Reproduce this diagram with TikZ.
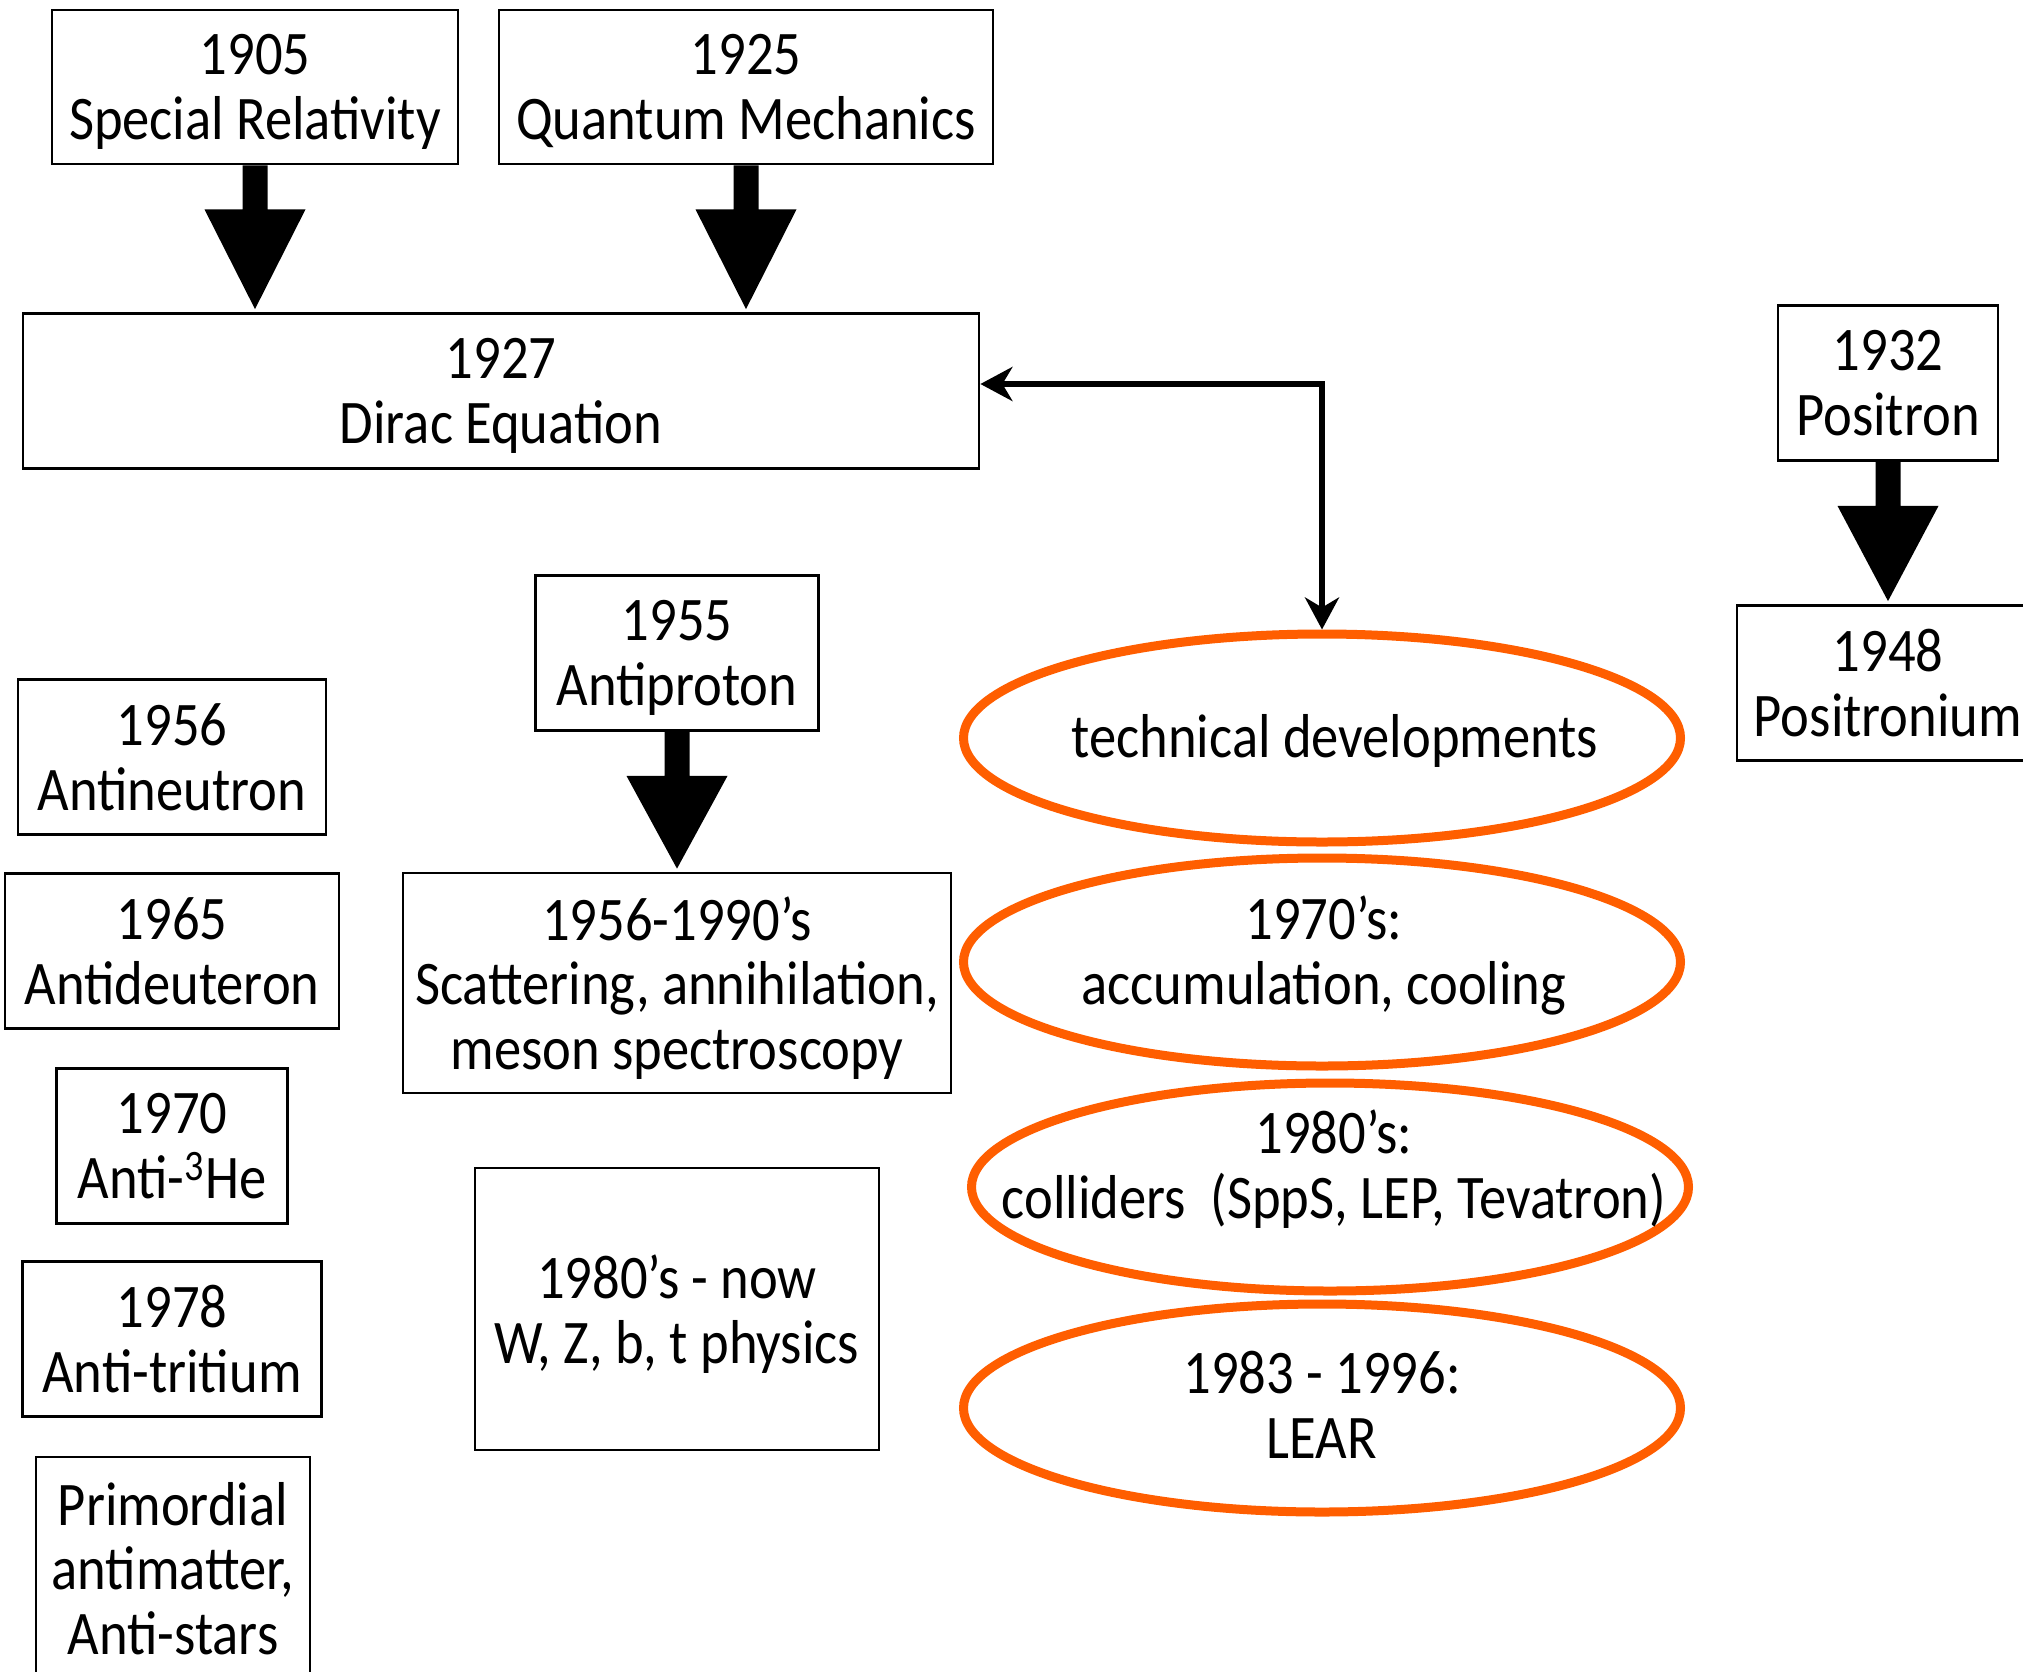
\documentclass[tikz,border=0pt]{standalone}
\usepackage{fontspec}
\setmainfont{Carlito}[FakeStretch=0.88]
\usetikzlibrary{shapes.geometric,arrows.meta,calc}
\definecolor{flame}{RGB}{255,94,0}

% one unit = one pixel of a 2023 x 1671 canvas, y running downwards
\tikzset{
  x=0.5pt, y=-0.5pt,
  labeltext/.style={font=\fontsize{31}{32.25}\selectfont, align=center, inner sep=0pt, text depth=0pt},
  event/.style={labeltext, draw=black, line width=1.4pt, fill=white},
  orb/.style={ellipse, draw=flame, line width=4.5pt, minimum width=358.5pt, minimum height=104pt, inner sep=0pt},
  link/.style={line width=2.75pt,
    {Stealth[length=16pt,width=17pt,inset=5pt]}-{Stealth[length=16pt,width=17pt,inset=5pt]}}
}

% thick block arrow from the bottom of one node to the top of another
\newcommand\fatarrow[2]{%
  \fill let \p1=(#1.south), \p2=(#2.north) in
    (\x1-6.25pt,\y1) -- (\x1+6.25pt,\y1) -- (\x1+6.25pt,\y1-22pt) --
    (\x1+25.25pt,\y1-22pt) -- (\x1,\y2+1.5pt) -- (\x1-25.25pt,\y1-22pt) --
    (\x1-6.25pt,\y1-22pt) -- cycle;}

\begin{document}
\begin{tikzpicture}
\path[use as bounding box, clip] (0,0) rectangle (2023,1671);
\fill[white] (0,0) rectangle (2023,1671);

% theory
\node[event, minimum width=203pt, minimum height=77pt] (sr) at (255,87) {1905\\Special Relativity};
\node[event, minimum width=247pt, minimum height=77pt] (qm) at (746,87) {1925\\Quantum Mechanics};
\node[event, minimum width=478pt, minimum height=77.5pt] (dirac) at (501,391) {1927\\Dirac Equation};

% positrons
\node[event, minimum width=110pt, minimum height=77.5pt] (positron) at (1888,383) {1932\\Positron};
\node[event, minimum width=151pt, minimum height=77.5pt] (positronium) at (1888,683) {1948\\Positronium};

% antinucleons and antinuclei
\node[event, minimum width=141.5pt, minimum height=77.5pt] (antiproton) at (677,653) {1955\\Antiproton};
\node[event, minimum width=154pt, minimum height=77.5pt] (antineutron) at (172,757) {1956\\Antineutron};
\node[event, minimum width=167pt, minimum height=77.5pt] (antideuteron) at (172,951) {1965\\Antideuteron};
\node[event, minimum width=115.5pt, minimum height=77.5pt] (antihelium) at (172,1146) {1970\\Anti-\textsuperscript{3}He};
\node[event, minimum width=149.5pt, minimum height=77.5pt] (antitritium) at (172,1339) {1978\\Anti-tritium};
\node[event, minimum width=137pt, minimum height=111pt] (primordial) at (173,1568) {Primordial\\antimatter,\\Anti-stars};

% physics with antiprotons
\node[event, minimum width=274pt, minimum height=110pt] (lowenergy) at (677,983) {1956-1990’s\\Scattering, annihilation,\\meson spectroscopy};
\node[event, minimum width=202pt, minimum height=141pt] (collider) at (677,1309) {1980’s - now\\W, Z, b, t physics};

% block arrows
\fatarrow{sr}{dirac}
\fatarrow{qm}{dirac}
\fatarrow{positron}{positronium}
\fatarrow{antiproton}{lowenergy}

% machines
\node[orb] (tech) at (1322,738) {};
\node[orb] (accum) at (1322,962) {};
\node[orb] (colliders) at (1330,1187) {};
\node[orb] (lear) at (1322,1408) {};
\node[labeltext] (techtext) at (1335,736) {technical developments};
\node[labeltext] (accumtext) at (1324,950) {1970’s:\\accumulation, cooling};
\node[labeltext] (colliderstext) at (1334,1164) {1980’s:\\colliders\ \ (SppS, LEP, Tevatron)};
\node[labeltext] (leartext) at (1322,1405) {1983 - 1996:\\LEAR};

% interplay between theory and technique
\draw[link] ([yshift=3.5pt]dirac.east) -| (tech.north);
\end{tikzpicture}
\end{document}
